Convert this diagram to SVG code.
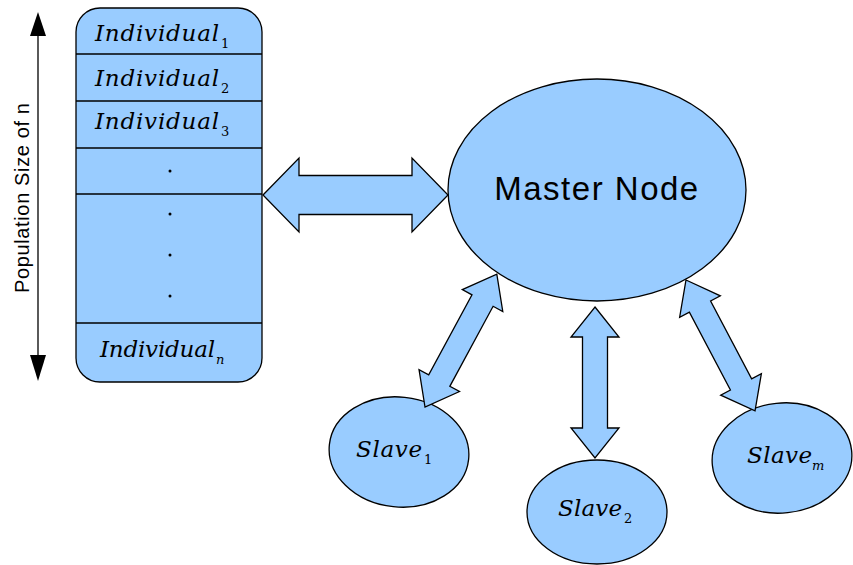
<svg xmlns="http://www.w3.org/2000/svg" width="853" height="565" viewBox="0 0 853 565">
<style>
.shape{fill:#99ccff;stroke:#000;stroke-width:1.3}
.line{stroke:#000;stroke-width:1.3;fill:none}
.ind{font-family:"DejaVu Serif",serif;font-style:italic;font-size:23px;fill:#000}
.sub{font-size:13px}
.up{font-style:normal}
.dot{fill:#000}
.sans{font-family:"Liberation Sans",Arial,sans-serif;fill:#000}
</style>
<rect width="853" height="565" fill="#fff"/>
<g id="population-axis">
<line class="line" x1="38" y1="30" x2="38" y2="358"/>
<polygon points="38,12 30,36 46,36" fill="#000"/>
<polygon points="38,381 30,355 46,355" fill="#000"/>
<text class="sans" font-size="20" x="-198" y="29" text-anchor="middle" textLength="190" transform="rotate(-90)">Population Size of n</text>
</g>
<g id="population">
<rect class="shape" x="76" y="8" width="186" height="374" rx="24" ry="24"/>
<line class="line" x1="76" y1="54" x2="262" y2="54"/>
<line class="line" x1="76" y1="101" x2="262" y2="101"/>
<line class="line" x1="76" y1="148" x2="262" y2="148"/>
<line class="line" x1="76" y1="194" x2="262" y2="194"/>
<line class="line" x1="76" y1="323" x2="262" y2="323"/>
<text class="ind" x="95" y="41" textLength="124">Individual</text><text class="ind sub up" x="221" y="48">1</text>
<text class="ind" x="95" y="86" textLength="124">Individual</text><text class="ind sub up" x="221" y="93">2</text>
<text class="ind" x="95" y="129" textLength="124">Individual</text><text class="ind sub up" x="221" y="136">3</text>
<circle class="dot" cx="170" cy="171" r="1.5"/>
<circle class="dot" cx="170" cy="214" r="1.5"/>
<circle class="dot" cx="170" cy="255" r="1.5"/>
<circle class="dot" cx="170" cy="296" r="1.5"/>
<text class="ind" x="100" y="357" textLength="115">Individual</text><text class="ind sub" x="216" y="364">n</text>
</g>
<g id="master">
<ellipse class="shape" cx="597" cy="190" rx="149" ry="111"/>
<text class="sans" x="597" y="200" font-size="33" letter-spacing="1.5" text-anchor="middle">Master Node</text>
</g>
<g id="slave1">
<ellipse class="shape" cx="399" cy="452" rx="70" ry="55" transform="rotate(6 399 452)"/>
<text class="ind" x="356" y="457" textLength="66">Slave</text><text class="ind sub up" x="424" y="464">1</text>
</g>
<g id="slave2">
<ellipse class="shape" cx="597" cy="512" rx="70" ry="52"/>
<text class="ind" x="558" y="516" textLength="64">Slave</text><text class="ind sub up" x="624" y="523">2</text>
</g>
<g id="slavem">
<ellipse class="shape" cx="782" cy="458" rx="70" ry="55" transform="rotate(-6 782 458)"/>
<text class="ind" x="747" y="463" textLength="65">Slave</text><text class="ind sub" x="812" y="470">m</text>
</g>
<g id="connectors">
<polygon class="shape" transform="translate(263,195)" points="0,0 36,-37 36,-19.5 149,-19.5 149,-37 185,0 149,37 149,19.5 36,19.5 36,37"/>
<polygon class="shape" transform="translate(425,407) rotate(-61.6)" points="0,0 30,-23 30,-12 121,-12 121,-23 151,0 121,23 121,12 30,12 30,23"/>
<polygon class="shape" transform="translate(595,307) rotate(90)" points="0,0 30,-24 30,-12.5 121,-12.5 121,-24 151,0 121,24 121,12.5 30,12.5 30,24"/>
<polygon class="shape" transform="translate(686,280) rotate(62.2)" points="0,0 30,-23 30,-12 118,-12 118,-23 148,0 118,23 118,12 30,12 30,23"/>
</g>
</svg>
